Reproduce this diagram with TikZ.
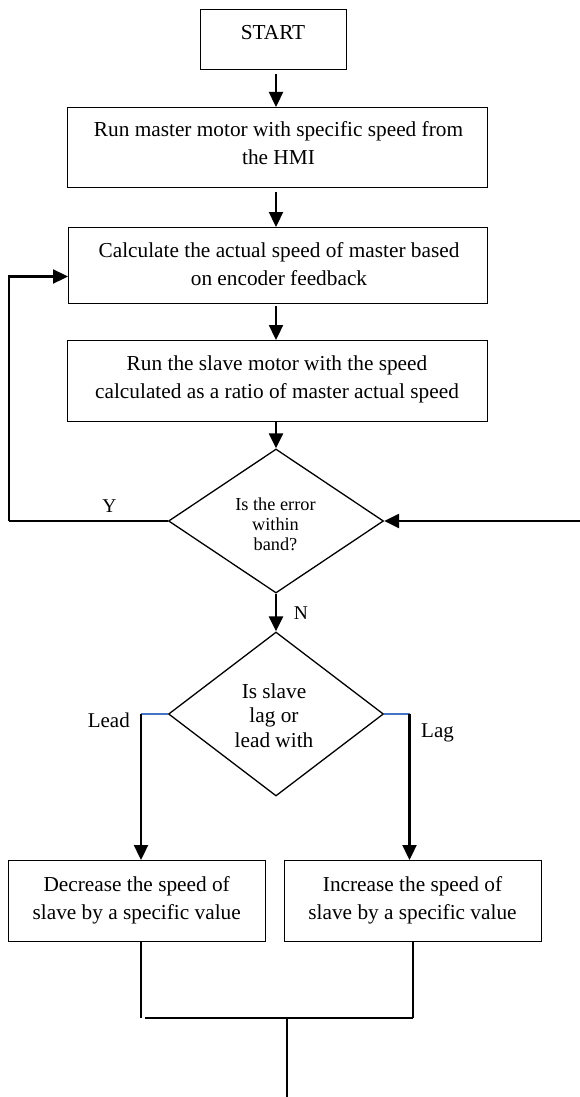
\documentclass[tikz,border=0pt]{standalone}
\usepackage{fontspec}
\setmainfont{Liberation Serif}
\usetikzlibrary{arrows.meta,shapes.geometric}
\definecolor{wblue}{RGB}{68,114,196}
\begin{document}
\begin{tikzpicture}[x=1pt,y=-1pt,
  box/.style={draw,line width=1.3pt,inner sep=0pt,anchor=north west},
  dia/.style={draw,diamond,line width=1.3pt,inner sep=0pt,minimum width=215pt,minimum height=144pt},
  btxt/.style={align=center,anchor=north,inner sep=0pt,font=\fontsize{21.3}{28}\selectfont},
  lbl/.style={inner sep=0pt,font=\fontsize{21}{24}\selectfont},
  yn/.style={inner sep=0pt,font=\fontsize{19.5}{22}\selectfont},
  arr/.style={line width=2.3pt,-{Triangle[length=15pt,width=14pt]}},
  fline/.style={line width=1.6pt},
  blueline/.style={line width=1.4pt,draw=wblue},
  mline/.style={line width=1.7pt}
]
\useasboundingbox (0,0) rectangle (580,1097);

% boxes
\node[box,minimum width=146pt,minimum height=60pt] (start) at (200,9) {};
\node[box,minimum width=420pt,minimum height=80pt] (b2) at (67,107) {};
\node[box,minimum width=419pt,minimum height=76pt] (b3) at (68,227) {};
\node[box,minimum width=420pt,minimum height=81pt] (b4) at (66.5,340) {};
\node[box,minimum width=257pt,minimum height=81pt] (dec) at (8,860) {};
\node[box,minimum width=257pt,minimum height=81pt] (inc) at (284,860) {};

% box texts
\node[btxt] (startt) at (273,25) {START};
\node[btxt] (b2t) at (278.5,121.5) {Run master motor with specific speed from\\the HMI};
\node[btxt] (b3t) at (279,242.5) {Calculate the actual speed of master based\\on encoder feedback};
\node[btxt] (b4t) at (277,355.5) {Run the slave motor with the speed\\calculated as a ratio of master actual speed};
\node[btxt] (dect) at (136.7,876) {Decrease the speed of\\slave by a specific value};
\node[btxt] (inct) at (412.5,876) {Increase the speed of\\slave by a specific value};

% decisions
\node[dia] (d1) at (276,521) {};
\node[dia,minimum height=164pt] (d2) at (276,714) {};
\node[align=center,anchor=north,inner sep=0pt,font=\fontsize{18.3}{20}\selectfont] (d1t) at (275.5,498) {Is the error\\within\\band?};
\node[align=center,anchor=north,inner sep=0pt,font=\fontsize{21.3}{24.5}\selectfont] (d2t) at (274,683.5) {Is slave\\lag or\\lead with};

% labels
\node[yn,anchor=base] (ylab) at (109.5,512) {Y};
\node[yn,anchor=base] (nlab) at (301,619) {N};
\node[lbl,anchor=base east] (leadlab) at (130,727) {Lead};
\node[lbl,anchor=base west] (laglab) at (421,737) {Lag};

% helper coordinates
\coordinate (ax) at (276,0);
\coordinate (fb) at (9,521);
\coordinate (rin) at (580,521);
\coordinate (lc) at (141,714);
\coordinate (rc) at (409.5,714);
\coordinate (ml) at (141,1018);
\coordinate (mls) at (145,1018);
\coordinate (mr) at (412.7,1018);
\coordinate (mc) at (287,1018);
\coordinate (fin) at (287,1097);

% connectors
\draw[arr,shorten <=4pt] (start.south -| ax) -- (b2.north -| ax);
\draw[arr,shorten <=4pt] (b2.south -| ax) -- (b3.north -| ax);
\draw[arr,shorten <=2pt] (b3.south -| ax) -- (b4.north -| ax);
\draw[arr] (b4.south -| ax) -- (d1.north);
\draw[arr] (d1.south) -- (d2.north);
\draw[fline] (d1.west) -- (fb);
\draw[arr] (fb) |- (b3.west |- 0,276.5);
\draw[arr] (rin) -- (d1.east);
\draw[blueline] (d2.west) -- (lc);
\draw[blueline] (d2.east) -- (rc);
\draw[arr] (lc) -- (dec.north -| lc);
\draw[arr] (rc) -- (inc.north -| rc);
\draw[mline] (dec.south -| ml) -- (ml);
\draw[mline] (inc.south -| mr) -- (mr);
\draw[mline] (mls) -- (mr);
\draw[mline] (mc) -- (fin);
\end{tikzpicture}
\end{document}
